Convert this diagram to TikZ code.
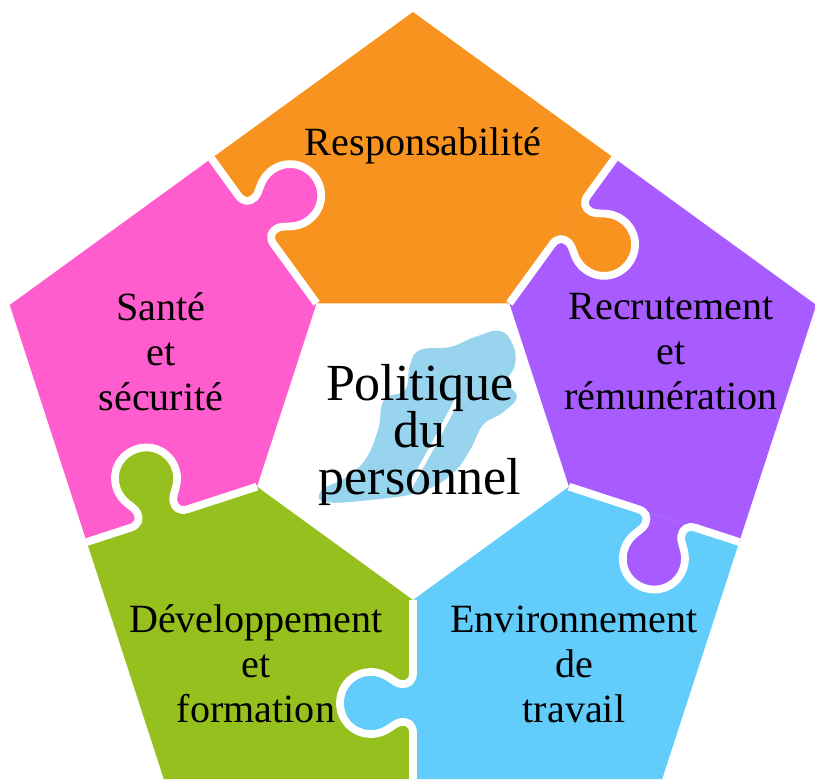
\documentclass[tikz,border=0pt]{standalone}
\usepackage{fontspec}
\setmainfont{Liberation Serif}
\definecolor{respOrange}{RGB}{247,147,30}
\definecolor{santePink}{RGB}{255,92,205}
\definecolor{recPurple}{RGB}{168,92,255}
\definecolor{devGreen}{RGB}{150,192,30}
\definecolor{envBlue}{RGB}{98,204,250}
\definecolor{blobBlue}{RGB}{152,212,238}

\begin{document}
\begin{tikzpicture}[x=0.01cm, y=0.01cm,
    gap/.style={draw=white, line width=2.2pt, line join=round},
    piecetext/.style={align=center, font={\fontsize{11.4}{12.8}\selectfont\lineskiplimit=-\maxdimen}}]
    \useasboundingbox (-413,-346) rectangle (402,436);

    % Pieces
    \foreach \a/\col in {90/respOrange, 162/santePink, 234/devGreen, 306/envBlue, 18/recPurple}
        \fill[\col] (\a-36:343) -- (\a:424) -- (\a+36:343) -- (\a+36:164) -- (\a-36:164) -- cycle;

    % Knobs and white joints
    \foreach \b/\col in {54/respOrange, 126/santePink, 198/devGreen, 270/envBlue, 342/recPurple}
        \draw[gap, fill=\col, shift={(\b:343)}, rotate=\b+180]
            (0,0) -- (46,0) .. controls (54,0) and (58,5) .. (57,12)
            .. controls (56,20) and (45,26) .. (45,42)
            .. controls (45,60) and (59,73) .. (76,73)
            .. controls (93,73) and (107,60) .. (107,42)
            .. controls (107,26) and (96,20) .. (95,12)
            .. controls (94,5) and (98,0) .. (106,0) -- (179,0);

    % Blob behind the title
    \fill[blobBlue] plot[smooth cycle, tension=0.7] coordinates {(87,105) (100,91) (102,71) (94,54)
        (104,39) (89,23) (70,11) (57,-14) (39,-38) (7,-56) (-43,-64) (-88,-66) (-91,-54)
        (-68,-42) (-48,-24) (-35,6) (-29,36) (-8,46) (-3,71) (7,86) (37,89) (62,99)};
    \draw[white, line width=1.3pt] (44,36) .. controls (22,-6) .. (-3,-51);

    % Labels
    \node[piecetext] (resp) at (10,290) {Responsabilité};
    \node[piecetext] (sante) at (-252,84) {Santé\\et\\sécurité};
    \node[piecetext] (recru) at (258,84) {Recrutement\\et\\rémunération};
    \node[piecetext] (dev) at (-157,-228) {Développement\\et\\formation};
    \node[piecetext] (env) at (161,-228) {Environnement\\de\\travail};
    \node[piecetext, font={\fontsize{14.8}{13.4}\selectfont\lineskiplimit=-\maxdimen}] (title) at (7,1) {Politique\\du\\personnel};
\end{tikzpicture}
\end{document}
